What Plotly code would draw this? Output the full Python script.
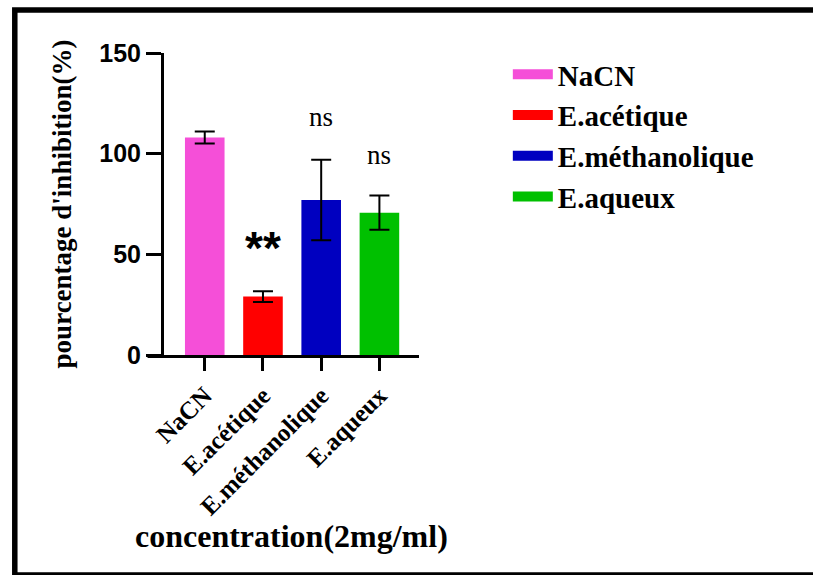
import plotly.graph_objects as go

categories = ["NaCN", "E.acétique", "E.méthanolique", "E.aqueux"]
values = [108, 29, 77, 70.7]
errors = [3, 2.7, 20, 8.5]
colors = ["#F54FD8", "#FF0000", "#0000C0", "#00C000"]
significance = ["", "**", "ns", "ns"]
sig_y = [None, 53, 118, 99.5]
yticks = [0, 50, 100, 150]

SERIF = "Liberation Serif"
SANS = "Liberation Sans"

fig = go.Figure()
for cat, v, e, c in zip(categories, values, errors, colors):
    fig.add_trace(go.Bar(
        x=[cat], y=[v], name=cat, marker=dict(color=c, line=dict(width=0)),
        width=0.68, showlegend=False,
        error_y=dict(type="data", array=[e], visible=True, color="black",
                     thickness=2, width=10),
    ))
# legend entries (wide swatches)
for i, (cat, c) in enumerate(zip(categories, colors)):
    fig.add_trace(go.Scatter(
        x=[None], y=[None], mode="lines", name=cat,
        line=dict(color=c, width=15), legendgroup=f"g{i}", showlegend=True,
    ))

for cat, s, yy in zip(categories, significance, sig_y):
    if not s:
        continue
    if s == "**":
        font = dict(family=SANS, size=46, color="black", weight="bold")
    else:
        font = dict(family=SERIF, size=27, color="black")
    fig.add_annotation(x=cat, y=yy, text=s, showarrow=False, font=font,
                       xanchor="center", yanchor="middle")

W, H = 813, 575
L, R, T, B = 163.5, 394, 53, 220
pw, ph = W - L - R, H - T - B

def px2x(p):
    return (p - L) / pw

def py2y(p):
    return (H - B - p) / ph

# outer frame (right side falls outside the picture)
fig.add_shape(type="rect", xref="paper", yref="paper",
              x0=px2x(14), x1=px2x(860), y0=py2y(10), y1=py2y(575),
              line=dict(color="black", width=5.5), fillcolor="rgba(0,0,0,0)",
              layer="above")
# x axis line extension to the left
fig.add_shape(type="line", xref="paper", yref="paper",
              x0=px2x(147), x1=0, y0=py2y(356.5), y1=py2y(356.5),
              line=dict(color="black", width=3))

# x axis title as a centred annotation below the rotated labels
fig.add_annotation(xref="paper", yref="paper", x=0.5, y=py2y(536),
                   text="concentration(2mg/ml)", showarrow=False,
                   xanchor="center", yanchor="middle",
                   font=dict(family=SERIF, size=32, color="black", weight="bold"))

fig.update_layout(
    width=W, height=H,
    margin=dict(l=L, r=R, t=T, b=B, pad=0),
    paper_bgcolor="white", plot_bgcolor="white",
    barmode="overlay",
    showlegend=True,
    legend=dict(x=px2x(508), y=py2y(49), xanchor="left", yanchor="top",
                xref="paper", yref="paper",
                font=dict(family=SERIF, size=29, color="black", weight="bold"),
                itemwidth=40, tracegroupgap=0, bgcolor="rgba(0,0,0,0)"),
    xaxis=dict(
        type="category", categoryorder="array", categoryarray=categories,
        range=[-0.7, 3.68], showline=True, linecolor="black", linewidth=3,
        ticks="outside", ticklen=13, tickwidth=3, tickcolor="black",
        tickangle=-45, showgrid=False, zeroline=False,
        tickfont=dict(family=SERIF, size=25, color="black", weight="bold"),
    ),
    yaxis=dict(
        range=[0, 150], tickvals=yticks, showline=True, linecolor="black",
        linewidth=3, ticks="outside", ticklen=15, tickwidth=3, tickcolor="black",
        showgrid=False, zeroline=False,
        tickfont=dict(family=SANS, size=25, color="black", weight="bold"),
        title=dict(text="pourcentage d'inhibition(%)",
                   font=dict(family=SERIF, size=27, color="black", weight="bold"),
                   standoff=20),
    ),
)

fig.write_html("out.html", config={"displayModeBar": False})
